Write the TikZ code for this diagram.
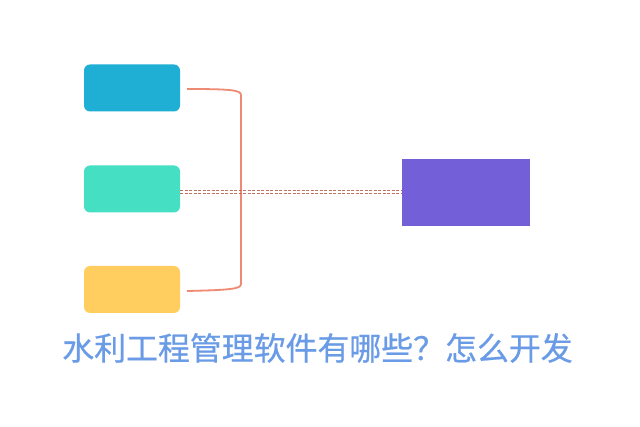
\documentclass[tikz,border=0pt]{standalone}
\usepackage{fontspec}
\newfontfamily\cjk[FakeBold=0.6]{Noto Sans CJK SC}
\definecolor{cblue}{HTML}{1FAED4}
\definecolor{cteal}{HTML}{45E0C4}
\definecolor{cyellow}{HTML}{FFCE5E}
\definecolor{cpurple}{HTML}{7360D8}
\definecolor{cbracket}{HTML}{EE8A74}
\definecolor{cdash}{HTML}{C0705E}
\definecolor{ctitle}{HTML}{6A9BE6}
\begin{document}
\begin{tikzpicture}[x=1pt,y=-1pt,
  itembox/.style={rounded corners=6pt, inner sep=0pt, minimum width=96pt, minimum height=47pt},
  dashline/.style={draw=cdash, dash pattern=on 3pt off 1.5pt, line width=0.7pt}]
\useasboundingbox (0,0) rectangle (640,427);
\fill[white] (0,0) rectangle (640,427);
\node[itembox, fill=cblue] (b1) at (132,88) {};
\node[itembox, fill=cteal] (b2) at (132,189) {};
\node[itembox, fill=cyellow] (b3) at (132,289.5) {};
\node[fill=cpurple, inner sep=0pt, minimum width=128pt, minimum height=67pt] (p) at (466,192.5) {};
\coordinate (t1) at (187,89);
\coordinate (t2) at (187,291);
\coordinate (d1a) at (180,190.8);
\coordinate (d1b) at (402,190.8);
\coordinate (d2a) at (180,193.2);
\coordinate (d2b) at (402,193.2);
\draw[cbracket, line width=1.8pt] (t1) .. controls (230,89) and (241,90) .. (241,95) -- (241,284) .. controls (241,289) and (230,290) .. (t2);
\draw[dashline] (d1a) -- (d1b);
\draw[dashline] (d2a) -- (d2b);
\node[text=ctitle, font=\cjk\fontsize{31.9}{31.9}\selectfont, inner sep=0pt] (title) at (317.5,348) {水利工程管理软件有哪些？怎么开发};
\end{tikzpicture}
\end{document}
